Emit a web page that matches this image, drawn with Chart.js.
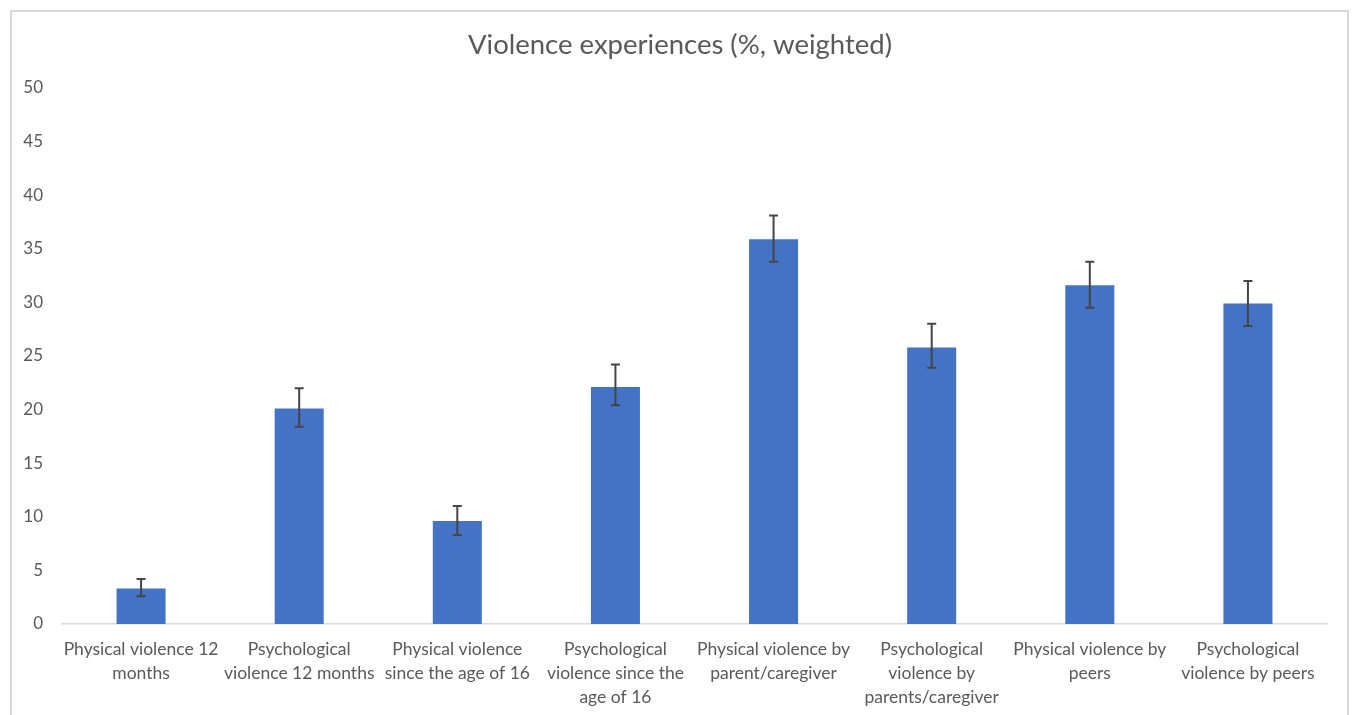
<!DOCTYPE html>
<html>
<head>
<meta charset="utf-8">
<script src="https://cdn.jsdelivr.net/npm/chart.js@4"></script>
<style>
  html, body { margin: 0; padding: 0; background: #ffffff; }
  #wrap { position: relative; width: 1356px; height: 715px; overflow: hidden; }
  #frame { position: absolute; left: 10px; top: 10px; width: 1339px; height: 720px; border: 2px solid #d9d9d9; box-sizing: border-box; }
  canvas { position: absolute; left: 0; top: 0; }
</style>
</head>
<body>
<div id="wrap">
  <div id="frame"></div>
  <canvas id="c" width="1356" height="715"></canvas>
</div>
<script>
const title = 'Violence experiences (%, weighted)';
const categories = [
  ['Physical violence 12', 'months'],
  ['Psychological', 'violence 12 months'],
  ['Physical violence', 'since the age of 16'],
  ['Psychological', 'violence since the', 'age of 16'],
  ['Physical violence by', 'parent/caregiver'],
  ['Psychological', 'violence by', 'parents/caregiver'],
  ['Physical violence by', 'peers'],
  ['Psychological', 'violence by peers']
];
const values    = [3.3, 20.1, 9.6, 22.1, 35.9, 25.8, 31.6, 29.9];
const errorLow  = [2.6, 18.4, 8.3, 20.4, 33.8, 23.9, 29.5, 27.8];
const errorHigh = [4.2, 22.0, 11.0, 24.2, 38.1, 28.0, 33.8, 32.0];
const yMin = 0, yMax = 50, yStep = 5;

const errorBarPlugin = {
  id: 'errorBars',
  afterDatasetsDraw(chart) {
    const ctx = chart.ctx;
    const meta = chart.getDatasetMeta(0);
    const ys = chart.scales.y;
    ctx.save();
    ctx.strokeStyle = '#454545';
    ctx.lineWidth = 2;
    meta.data.forEach((bar, i) => {
      const x = bar.x;
      const yl = ys.getPixelForValue(errorLow[i]);
      const yh = ys.getPixelForValue(errorHigh[i]);
      const cap = 4.5;
      ctx.beginPath();
      ctx.moveTo(x, yl); ctx.lineTo(x, yh);
      ctx.moveTo(x - cap, yl); ctx.lineTo(x + cap, yl);
      ctx.moveTo(x - cap, yh); ctx.lineTo(x + cap, yh);
      ctx.stroke();
    });
    ctx.restore();
  }
};

new Chart(document.getElementById('c'), {
  type: 'bar',
  data: {
    labels: categories,
    datasets: [{
      data: values,
      backgroundColor: '#4472C4',
      borderWidth: 0,
      barPercentage: 1.0,
      categoryPercentage: 0.31,
      yAxisID: 'y'
    }]
  },
  options: {
    responsive: false,
    animation: false,
    devicePixelRatio: 1,
    layout: { padding: { left: 12, right: 8, top: 0, bottom: 0 } },
    plugins: {
      legend: { display: false },
      tooltip: { enabled: false },
      title: {
        display: true,
        text: title,
        color: '#595959',
        font: { family: 'Lato', size: 27.5, weight: 'normal', lineHeight: 1.2 },
        padding: { top: 29, bottom: 26 }
      }
    },
    scales: {
      x: {
        grid: { display: false, drawTicks: false },
        border: { display: true, color: '#d9d9d9', width: 1.5 },
        ticks: {
          color: '#595959',
          font: { family: 'Lato', size: 17.5, lineHeight: 1.37 },
          padding: 13,
          maxRotation: 0,
          autoSkip: false
        },
        afterFit(scale) { scale.height = 91; }
      },
      y: {
        min: yMin, max: yMax,
        grid: { display: false, drawTicks: false },
        border: { display: false },
        ticks: {
          stepSize: yStep,
          color: '#595959',
          font: { family: 'Lato', size: 17 },
          padding: 19
        },
        afterFit(scale) { scale.width = 50; }
      },
      yRight: {
        position: 'right',
        display: true,
        grid: { display: false, drawTicks: false },
        border: { display: false },
        ticks: { display: false },
        afterFit(scale) { scale.width = 21; }
      }
    }
  },
  plugins: [errorBarPlugin]
});
</script>
</body>
</html>
